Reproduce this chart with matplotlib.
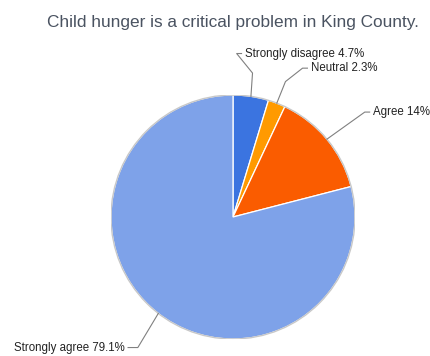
import numpy as np
import matplotlib
matplotlib.use("Agg")
import matplotlib.pyplot as plt

plt.rcParams['font.family'] = ['Liberation Sans', 'DejaVu Sans']

labels = ["Strongly disagree", "Neutral", "Agree", "Strongly agree"]
values = [4.7, 2.3, 14, 79.1]
value_text = ["4.7%", "2.3%", "14%", "79.1%"]
colors = ["#3b74e0", "#ff9a00", "#fa5c00", "#7ea2e9"]

# leader line elbow / end points (axes units, radius = 1) and text side
elbows = [[(0.16, 1.18), (0.03, 1.34), (0.07, 1.34)],
          [(0.43, 1.11), (0.57, 1.22), (0.61, 1.22)],
          [(1.08, 0.86), (1.12, 0.86)],
          [(-0.78, -1.07), (-0.86, -1.07)]]
sides = ["left", "left", "left", "right"]

fig = plt.figure(figsize=(4.3, 3.56), dpi=100)
fig.text(0.542, 1 - 22.5/356, "Child hunger is a critical problem in King County.",
         ha="center", va="center", fontsize=12.4, color="#4a5361")

r_px = 122
ax = fig.add_axes([(233 - r_px)/430, (356 - 217 - r_px)/356, 2*r_px/430, 2*r_px/356])
wedges, _ = ax.pie(values, colors=colors, startangle=90, counterclock=False,
                   wedgeprops=dict(edgecolor="white", linewidth=0.9))
ax.add_patch(plt.Circle((0, 0), 1.0, fill=False, edgecolor="#c8c8c8", linewidth=1.0))
ax.set_xlim(-1, 1)
ax.set_ylim(-1, 1)
ax.set_aspect("equal")
ax.axis("off")

for w, lab, vt, pts, side in zip(wedges, labels, value_text, elbows, sides):
    mid = np.deg2rad((w.theta1 + w.theta2) / 2)
    xs = [np.cos(mid)] + [p[0] for p in pts]
    ys = [np.sin(mid)] + [p[1] for p in pts]
    ax.plot(xs, ys, color="#808080", linewidth=0.8, clip_on=False)
    off = 0.03 if side == "left" else -0.03
    ax.text(xs[-1] + off, ys[-1], f"{lab} {vt}", ha=side, va="center",
            fontsize=8.3, color="#222222", clip_on=False)

fig.savefig("out.png", dpi=100)
